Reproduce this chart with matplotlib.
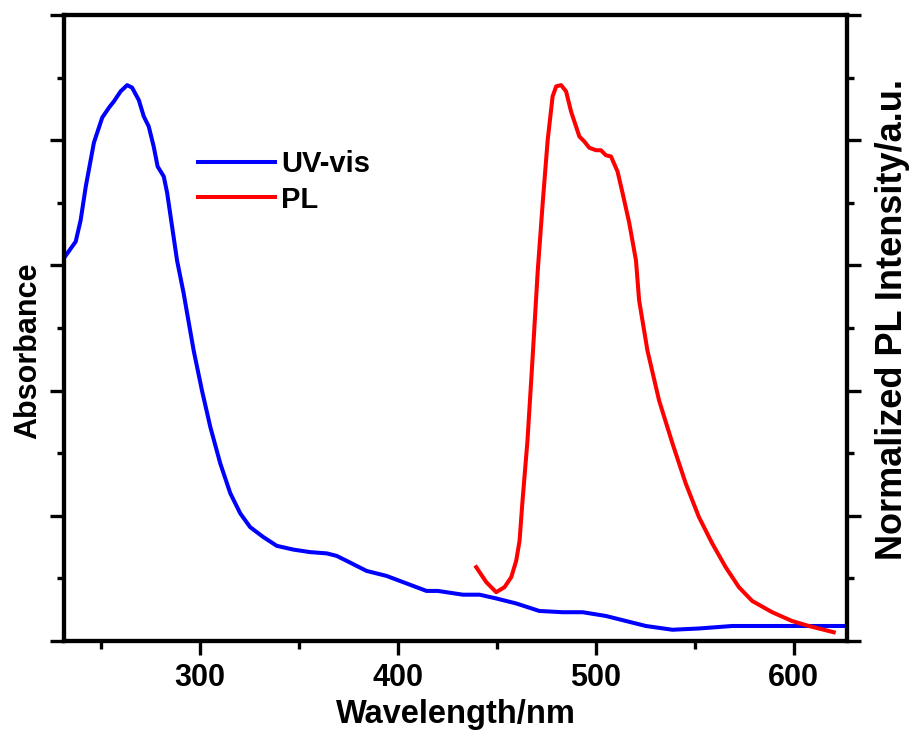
import matplotlib
matplotlib.use("Agg")
import matplotlib.pyplot as plt
from matplotlib.ticker import MultipleLocator, NullFormatter

plt.rcParams['font.family'] = ['Liberation Sans', 'DejaVu Sans']
plt.rcParams['font.weight'] = 'bold'

# UV-vis absorbance (arb. units)
uv_nm = [232.0, 237.4, 239.9, 242.5, 246.6, 250.8, 254.2, 256.7, 260.1, 263.4,
         265.9, 269.3, 271.8, 274.3, 276.8, 278.8, 281.9, 283.6, 286.1, 288.6,
         291.9, 297.0, 301.2, 305.4, 310.4, 315.5, 320.5, 325.5, 332.2, 339.0,
         347.4, 355.8, 364.2, 369.2, 374.3, 384.3, 394.4, 404.5, 414.6, 420.4,
         433.0, 441.4, 449.8, 459.9, 471.6, 483.4, 493.5, 505.2, 515.3, 525.4,
         538.8, 552.2, 569.0, 585.8, 607.7, 626.1]
uv_abs = [3.07, 3.19, 3.36, 3.63, 3.98, 4.18, 4.26, 4.31, 4.39, 4.44,
          4.42, 4.32, 4.19, 4.11, 3.95, 3.79, 3.71, 3.58, 3.31, 3.04,
          2.78, 2.32, 2.00, 1.71, 1.42, 1.18, 1.02, 0.91, 0.83, 0.76,
          0.73, 0.71, 0.70, 0.68, 0.64, 0.56, 0.52, 0.46, 0.40, 0.40,
          0.37, 0.37, 0.34, 0.30, 0.24, 0.23, 0.23, 0.20, 0.16, 0.12,
          0.09, 0.10, 0.12, 0.12, 0.12, 0.12]

# PL emission (normalized, same visual scale)
pl_nm = [439.7, 444.8, 449.8, 454.0, 457.4, 459.9, 461.6, 463.1, 465.6, 468.1,
         470.8, 473.3, 475.8, 478.3, 480.1, 482.6, 485.1, 487.6, 491.8, 494.3,
         496.8, 500.2, 502.7, 505.2, 507.8, 511.1, 513.6, 517.0, 520.4, 522.0,
         526.2, 532.1, 538.8, 545.5, 552.2, 558.9, 565.7, 572.4, 579.1, 589.2,
         599.2, 607.7, 620.3]
pl_int = [0.59, 0.47, 0.39, 0.43, 0.51, 0.64, 0.80, 1.12, 1.60, 2.24,
          2.96, 3.50, 4.00, 4.35, 4.43, 4.44, 4.39, 4.23, 4.03, 3.99,
          3.94, 3.92, 3.92, 3.88, 3.87, 3.75, 3.58, 3.34, 3.04, 2.72,
          2.32, 1.92, 1.58, 1.26, 0.99, 0.78, 0.59, 0.43, 0.32, 0.23,
          0.16, 0.12, 0.07]

fig = plt.figure(figsize=(9.09, 7.32), dpi=100)
ax = fig.add_axes([0.0704, 0.1243, 0.8614, 0.8552])
ax2 = ax.twinx()

l1, = ax.plot(uv_nm, uv_abs, color='#0000ff', lw=2.9, label='UV-vis',
              solid_joinstyle='round')
l2, = ax2.plot(pl_nm, pl_int, color='#ff0000', lw=2.9, label='PL',
               solid_joinstyle='round')

for a in (ax, ax2):
    a.set_xlim(231.5, 627)
    a.set_ylim(0, 5)
    a.yaxis.set_major_locator(MultipleLocator(1))
    a.yaxis.set_minor_locator(MultipleLocator(0.5))
    a.yaxis.set_major_formatter(NullFormatter())
    for s in a.spines.values():
        s.set_linewidth(3)

ax.xaxis.set_major_locator(MultipleLocator(100))
ax.xaxis.set_minor_locator(MultipleLocator(50))
ax.tick_params(axis='x', which='major', direction='out', length=10, width=2.4,
               labelsize=22, pad=6, top=False)
ax.tick_params(axis='x', which='minor', direction='out', length=6, width=2.4, top=False)
ax.tick_params(axis='y', which='major', direction='out', length=10, width=2.4)
ax.tick_params(axis='y', which='minor', direction='out', length=5, width=2.4)
ax2.tick_params(axis='y', which='major', direction='out', length=10, width=2.4)
ax2.tick_params(axis='y', which='minor', direction='out', length=5, width=2.4)
for lab in ax.get_xticklabels():
    lab.set_fontweight('bold')

ax.set_xlabel('Wavelength/nm', fontsize=23.5, fontweight='bold')
ax.xaxis.set_label_coords(0.5006, -0.092)
ax.set_ylabel('Absorbance', fontsize=22, fontweight='bold')
ax.yaxis.set_label_coords(-0.027, 0.463)
ax2.set_ylabel('Normalized PL Intensity/a.u.', fontsize=26, fontweight='bold')
ax2.yaxis.set_label_coords(1.036, 0.513)

ax.legend(handles=[l1, l2], loc='upper left', bbox_to_anchor=(0.171, 0.784),
          frameon=False, handlelength=2.65, handletextpad=0.2,
          labelspacing=0.25, borderpad=0, borderaxespad=0,
          prop={'weight': 'bold', 'size': 21})

fig.savefig('out.png', dpi=100)
